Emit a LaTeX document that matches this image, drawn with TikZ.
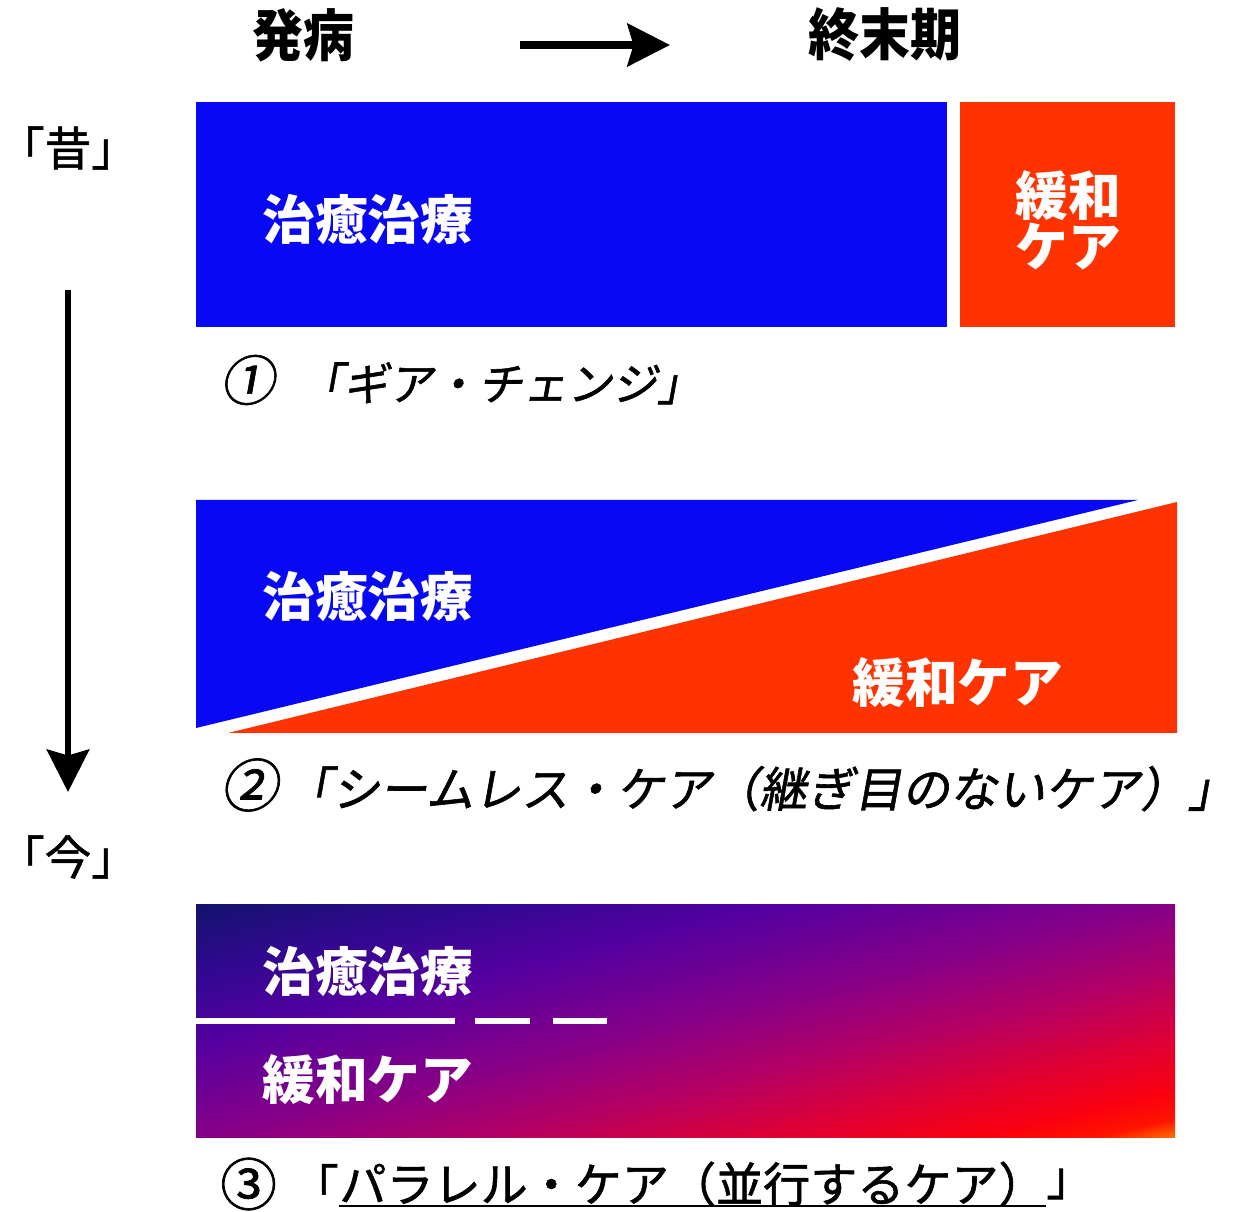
\documentclass[tikz,border=0pt]{standalone}
\usepackage{fontspec}
\setmainfont{Noto Sans CJK JP}
\newfontfamily\jp{Noto Sans CJK JP}
\newfontfamily\jpmed[FakeBold=1.2]{Noto Sans CJK JP}
\newfontfamily\jpit[FakeSlant=0.18,FakeBold=1.2]{Noto Sans CJK JP}
\usetikzlibrary{arrows.meta}
\definecolor{cureblue}{RGB}{8,8,245}
\definecolor{carered}{RGB}{255,51,0}
\definecolor{pc0}{RGB}{20,18,110}
\definecolor{pc1}{RGB}{50,8,145}
\definecolor{pc2}{RGB}{85,0,160}
\definecolor{pc3}{RGB}{135,0,135}
\definecolor{pc4}{RGB}{180,0,100}
\definecolor{pc5}{RGB}{220,0,55}
\definecolor{pc6}{RGB}{250,0,15}
\definecolor{pc7}{RGB}{255,20,0}
\definecolor{pc8}{RGB}{255,110,0}
\pgfdeclarehorizontalshading{paracare}{100bp}{%
  color(0bp)=(pc0);
  color(14.6bp)=(pc0);
  color(25.3bp)=(pc1);
  color(35.9bp)=(pc2);
  color(50bp)=(pc3);
  color(60.6bp)=(pc4);
  color(69.8bp)=(pc5);
  color(78.3bp)=(pc6);
  color(82.6bp)=(pc7);
  color(85.4bp)=(pc8);
  color(100bp)=(pc8)}
\newcommand{\circnum}[1]{\scalebox{1.2}{#1}}
\tikzset{
  whitelbl/.style={text=white, font=\jp\bfseries\fontsize{30}{29}\selectfont, inner sep=0pt},
  toplbl/.style={text=black, font=\jp\bfseries\fontsize{29}{30}\selectfont, inner sep=0pt, yscale=1.1, transform shape},
  eralbl/.style={text=black, font=\jpmed\fontsize{26.5}{28}\selectfont, inner sep=0pt},
  capone/.style={text=black, font=\jpit\fontsize{25.5}{28}\selectfont, inner sep=0pt, anchor=west},
  captwo/.style={text=black, font=\jpit\fontsize{27.1}{30}\selectfont, inner sep=0pt, anchor=west},
  capthree/.style={text=black, font=\jpmed\fontsize{26.8}{30}\selectfont, inner sep=0pt, anchor=west},
  bigarrow/.style={line width=#1, -{Stealth[length=0.85cm, width=0.85cm, inset=0.12cm]}},
  divline/.style={white, line width=0.12cm}
}
\begin{document}
\begin{tikzpicture}[x=0.02cm, y=-0.02cm]
\useasboundingbox (0,0) rectangle (1242,1212);
\fill[white] (0,0) rectangle (1242,1212);

% header
\node[toplbl] (onset) at (303,35) {発病};
\node[toplbl] (terminal) at (885,35) {終末期};
\coordinate (hstart) at (520,45);
\coordinate (hend) at (670,45);
\draw[bigarrow=4.3pt] (hstart) -- (hend);

% era labels and time arrow
\node[eralbl] (past) at (68,148) {「昔」};
\node[eralbl] (now) at (68,857) {「今」};
\coordinate (vstart) at (68,290);
\coordinate (vend) at (68,792);
\draw[bigarrow=3pt] (vstart) -- (vend);

% model 1
\fill[cureblue] (196,102) rectangle (947,327);
\fill[carered] (960,102) rectangle (1175,327);
\node[whitelbl, anchor=west] (cure1) at (262,220) {治癒治療};
\node[whitelbl, align=center] (care1) at (1068,220) {緩和\\ケア};
\node[capone] (cap1) at (220,380) {\circnum{①}\hspace{0.55em}「ギア・チェンジ」};

% model 2
\fill[cureblue] (196,500) -- (1138,500) -- (196,728) -- cycle;
\fill[carered] (1177,502) -- (1177,733) -- (228,733) -- cycle;
\node[whitelbl, anchor=west] (cure2) at (262,597) {治癒治療};
\node[whitelbl, anchor=west] (care2) at (852,683) {緩和ケア};
\node[captwo] (cap2) at (220,785) {\circnum{②}\hspace{0.15em}「シームレス・ケア（継ぎ目のないケア）」};

% model 3: square shaded diagonally, stretched to the box
\begin{scope}[transform canvas={shift={(196,905)}, xscale=4.2017}]
  \shade[shading=paracare, shading angle=-45] (0,0) rectangle (233,233);
\end{scope}
\node[whitelbl, anchor=west] (cure3) at (262,972) {治癒治療};
\node[whitelbl, anchor=west] (care3) at (262,1080) {緩和ケア};
\draw[divline] (196,1021) -- (455,1021);
\draw[divline] (475,1021) -- (530,1021);
\draw[divline] (553,1021) -- (607,1021);
\node[capthree] (cap3num) at (220,1184) {\circnum{③}};
\node[capthree] (cap3open) at ([xshift=8pt]cap3num.east) {「};
\node[capthree] (cap3body) at (cap3open.east) {パラレル・ケア（並行するケア）};
\node[capthree] (cap3close) at (cap3body.east) {」};
\draw[line width=1.1pt] ([yshift=0.5pt]cap3body.south west) -- ([yshift=0.5pt]cap3body.south east);
\end{tikzpicture}
\end{document}
